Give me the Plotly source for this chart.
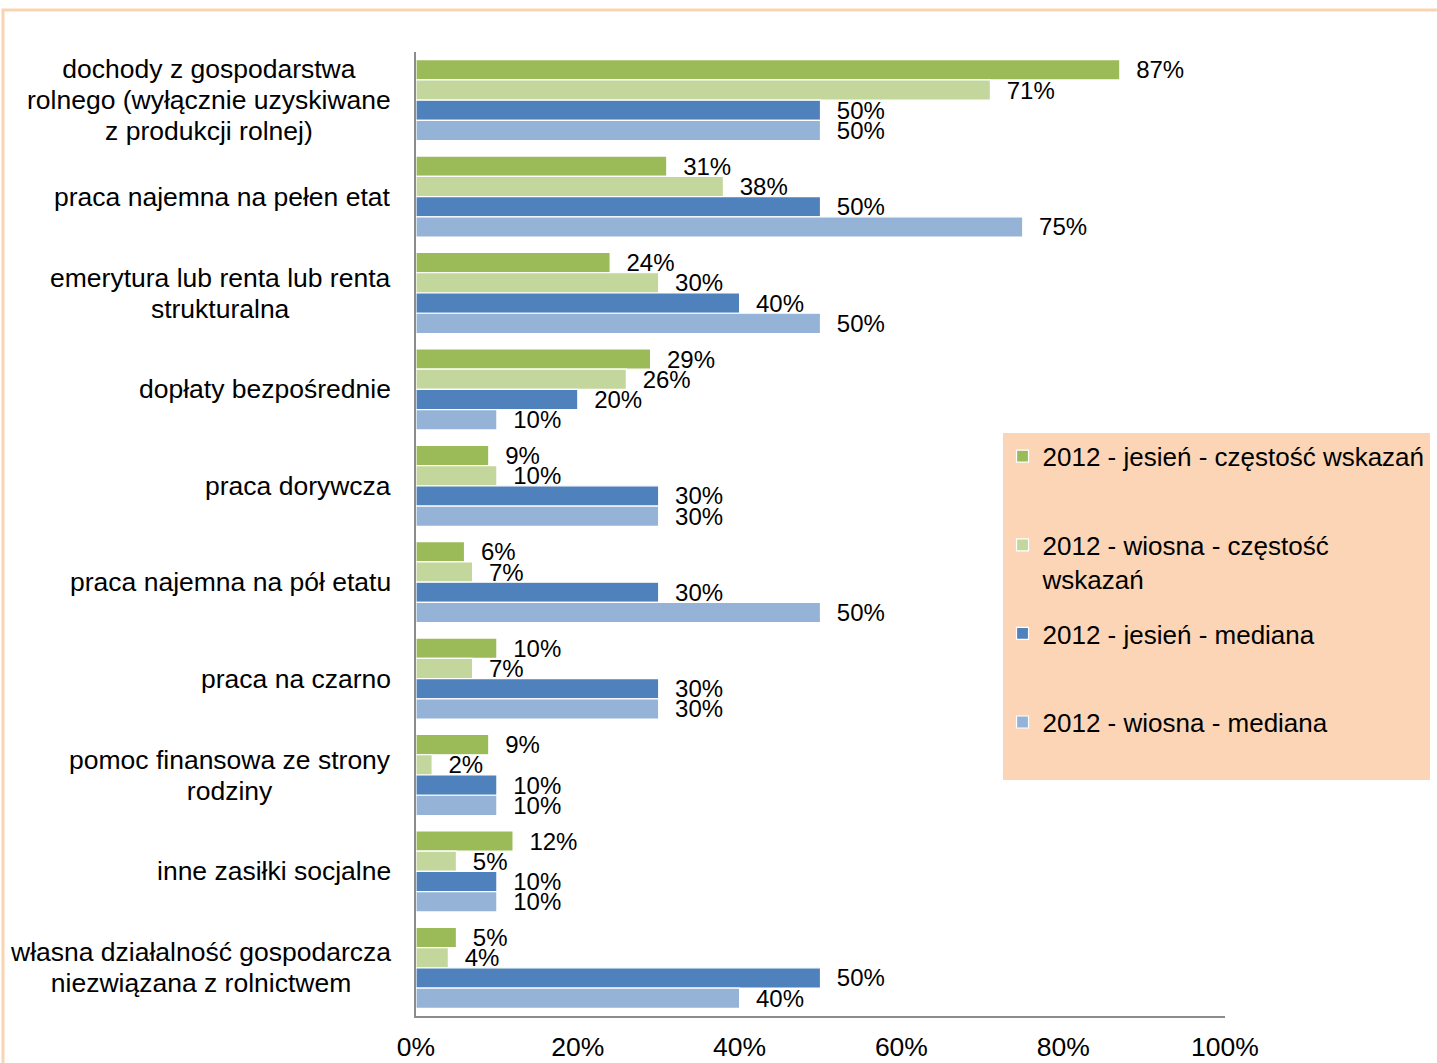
import plotly.graph_objects as go

categories = [
    "dochody z gospodarstwa<br>rolnego (wyłącznie uzyskiwane<br>z produkcji rolnej)",
    "praca najemna na pełen etat",
    "emerytura lub renta lub renta<br>strukturalna",
    "dopłaty bezpośrednie",
    "praca dorywcza",
    "praca najemna na pół etatu",
    "praca na czarno",
    "pomoc finansowa ze strony<br>rodziny",
    "inne zasiłki socjalne",
    "własna działalność gospodarcza<br>niezwiązana z rolnictwem",
]
series_names = [
    "2012 - jesień - częstość wskazań",
    "2012 - wiosna - częstość<br>wskazań",
    "2012 - jesień - mediana",
    "2012 - wiosna - mediana",
]
jesien_czestosc = [87, 31, 24, 29, 9, 6, 10, 9, 12, 5]
wiosna_czestosc = [71, 38, 30, 26, 10, 7, 7, 2, 5, 4]
jesien_mediana = [50, 50, 40, 20, 30, 30, 30, 10, 10, 50]
wiosna_mediana = [50, 75, 50, 10, 30, 50, 30, 10, 10, 40]
x_ticks = [0, 20, 40, 60, 80, 100]

colors = ["#9BBB59", "#C3D69B", "#4F81BD", "#95B3D7"]
series = [jesien_czestosc, wiosna_czestosc, jesien_mediana, wiosna_mediana]

FONT = "Arial, Liberation Sans, sans-serif"
NB = "\u00a0"
BIG = 26.5

fig = go.Figure()
for i, (name, vals, col) in enumerate(zip(series_names, series, colors)):
    label = name if "<br>" in name else name + "<br>" + NB
    fig.add_trace(go.Bar(
        y=categories, x=vals, name=label, orientation="h",
        marker=dict(color=col, line=dict(color="white", width=1.2)),
        text=[f"{NB}{NB}{v}%" for v in vals],
        textposition="outside", constraintext="none", cliponaxis=False,
        textfont=dict(size=24, color="black", family=FONT),
        legendgroup=f"g{i}",
    ))

for c in categories:
    txt = "<br>".join(f'<span style="font-size:{BIG}px">{ln}</span>' for ln in c.split("<br>"))
    fig.add_annotation(
        x=-0.028, xref="paper", y=c, yref="y", text=txt, showarrow=False,
        xanchor="right", yanchor="middle", align="center",
        font=dict(size=24, color="black", family=FONT),
    )

fig.add_shape(
    type="rect", xref="paper", yref="paper",
    x0=-0.5105, x1=1.3, y0=-0.2, y1=1.0436,
    line=dict(color="#FAD3B0", width=3), fillcolor="rgba(0,0,0,0)", layer="below",
)

fig.update_layout(
    width=1437, height=1063,
    margin=dict(l=416, r=212, t=52, b=47, autoexpand=False),
    paper_bgcolor="white", plot_bgcolor="white",
    barmode="group", bargap=0.16, bargroupgap=0,
    font=dict(family=FONT, size=BIG, color="black"),
    legend=dict(
        x=0.725, xanchor="left", y=0.605, yanchor="top",
        bgcolor="#FBD5B5", font=dict(size=26, color="black", family=FONT),
        valign="top", tracegroupgap=18, traceorder="grouped",
    ),
    xaxis=dict(
        range=[0, 100], tickvals=x_ticks, ticktext=[f"{t}%" for t in x_ticks],
        showgrid=False, zeroline=False, showline=True, linecolor="#8C8C8C", linewidth=2,
        ticks="", ticklabelstandoff=6, tickfont=dict(size=BIG), automargin=False,
    ),
    yaxis=dict(
        autorange="reversed", showticklabels=False, showgrid=False,
        showline=True, linecolor="#8C8C8C", linewidth=2, ticks="", automargin=False,
    ),
)

fig.write_html("out.html", config={"displayModeBar": False},
               post_script="document.body.style.margin='0';")
